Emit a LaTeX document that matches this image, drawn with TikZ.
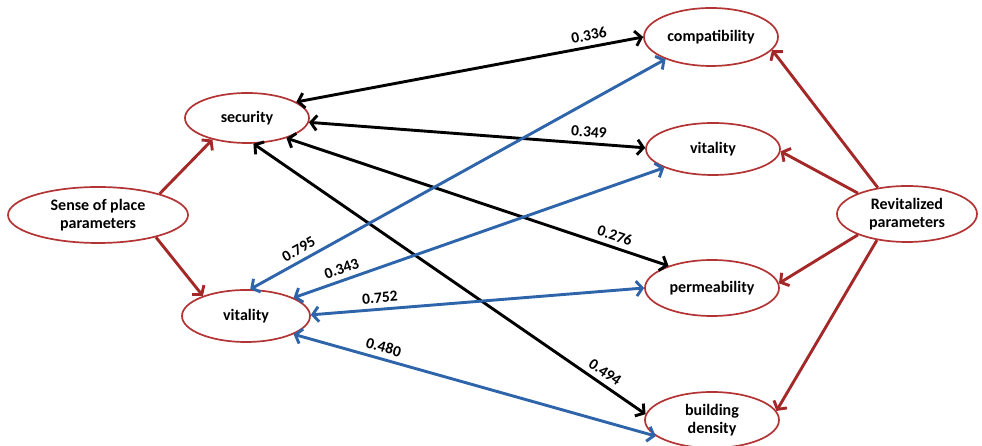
\documentclass[tikz,border=0pt]{standalone}
\usepackage{fontspec}
\setmainfont{Carlito}
\usetikzlibrary{shapes.geometric,arrows.meta}
\definecolor{ered}{RGB}{178,52,52}
\definecolor{ared}{RGB}{165,40,40}
\definecolor{ablue}{RGB}{45,100,170}
\begin{document}
\begin{tikzpicture}[x=1pt,y=1pt,
  ell/.style={ellipse, draw=ered, line width=1.7pt, inner sep=0pt, fill=white,
    font=\fontsize{16}{18}\selectfont\bfseries, align=center},
  tip/.tip={Straight Barb[length=6pt,width=15pt]},
  both/.style={line width=2.9pt, tip-tip},
  kconn/.style={both, draw=black},
  bconn/.style={both, draw=ablue},
  rconn/.style={line width=2.9pt, draw=ared, -tip},
  lab/.style={sloped, above=4pt, inner sep=1pt, text=black,
    font=\fontsize{15.5}{15.5}\selectfont\bfseries}
]
\useasboundingbox (0,0) rectangle (982,446);
\fill[white] (0,0) rectangle (982,446);

\node[ell, minimum width=180, minimum height=56] (sop) at (98,231) {Sense of place\\parameters};
\node[ell, minimum width=124, minimum height=50] (sec) at (247,328) {security};
\node[ell, minimum width=128, minimum height=52] (vitL) at (246,130) {vitality};
\node[ell, minimum width=134, minimum height=58] (comp) at (711,409) {compatibility};
\node[ell, minimum width=134, minimum height=52] (vitR) at (713,297) {vitality};
\node[ell, minimum width=134, minimum height=56] (perm) at (712,158) {permeability};
\node[ell, minimum width=134, minimum height=56] (bd) at (712,26) {building\\density};
\node[ell, minimum width=140, minimum height=56] (rev) at (907,232) {Revitalized\\parameters};

% red arrows
\draw[rconn] (sop.19) -- (sec.212);
\draw[rconn] (sop.-21) -- (vitL.155);
\draw[rconn] (rev.138) -- (comp.-12);
\draw[rconn] (rev.157) -- (vitR.-2);
\draw[rconn] (rev.203) -- (perm.4);
\draw[rconn] (rev.221) -- (bd.8);

% black double arrows
\draw[kconn] (sec.18) -- node[lab, pos=.85] {0.336} (comp.180);
\draw[kconn] (sec.-4) -- node[lab, pos=.83] {0.349} (vitR.179);
\draw[kconn] (sec.-27) -- node[lab, pos=.85] {0.276} (perm.153);
\draw[kconn] (sec.-76) -- node[lab, pos=.88] {0.494} (bd.175);

% blue double arrows
\draw[bconn] (vitL.81) -- node[lab, pos=.13] {0.795} (comp.206);
\draw[bconn] (vitL.21) -- node[lab, pos=.14] {0.343} (vitR.201);
\draw[bconn] (vitL.1) -- node[lab, pos=.21] {0.752} (perm.180);
\draw[bconn] (vitL.-21) -- node[lab, pos=.24] {0.480} (bd.196);
\end{tikzpicture}
\end{document}
